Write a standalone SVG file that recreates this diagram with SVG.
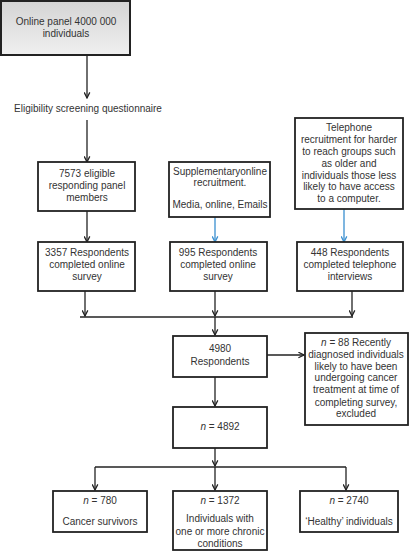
<svg xmlns="http://www.w3.org/2000/svg" width="410" height="552" viewBox="0 0 410 552">
<defs>
<linearGradient id="g" x1="0" y1="0" x2="0" y2="1">
<stop offset="0" stop-color="#d4d4d4"/>
<stop offset="1" stop-color="#f0f0f0"/>
</linearGradient>
<marker id="a" viewBox="0 0 10 10" refX="9" refY="5" markerWidth="7" markerHeight="7" markerUnits="userSpaceOnUse" orient="auto">
<path d="M1,1 L9,5 L1,9" fill="none" stroke="#222" stroke-width="1.8"/>
</marker>
<marker id="b" viewBox="0 0 10 10" refX="9" refY="5" markerWidth="7" markerHeight="7" markerUnits="userSpaceOnUse" orient="auto">
<path d="M1,1 L9,5 L1,9" fill="none" stroke="#3a8fd0" stroke-width="1.8"/>
</marker>
</defs>
<style>
.box{fill:#fff;stroke:#222;stroke-width:1.8}
text{font-family:"Liberation Sans",Arial,sans-serif;font-size:10px;fill:#333;text-anchor:middle}
.c{fill:none;stroke:#222;stroke-width:1.3}
.bl{fill:none;stroke:#3a8fd0;stroke-width:1.3}
</style>
<g id="connectors">
<line class="c" x1="87" y1="56" x2="87" y2="98" marker-end="url(#a)"/>
<line class="c" x1="87" y1="120" x2="87" y2="162" marker-end="url(#a)"/>
<line class="c" x1="87" y1="211" x2="87" y2="242" marker-end="url(#a)"/>
<line class="c" x1="85" y1="291" x2="85" y2="316" marker-end="url(#a)"/>
<line class="bl" x1="215" y1="217" x2="215" y2="242" marker-end="url(#b)"/>
<line class="bl" x1="344" y1="209" x2="344" y2="242" marker-end="url(#b)"/>
<line class="c" x1="215" y1="291" x2="215" y2="316" marker-end="url(#a)"/>
<line class="c" x1="352" y1="291" x2="352" y2="316" marker-end="url(#a)"/>
<line class="c" x1="80" y1="317" x2="353" y2="317"/>
<line class="c" x1="215" y1="317" x2="215" y2="335" marker-end="url(#a)"/>
<line class="c" x1="267" y1="355" x2="304" y2="355" marker-end="url(#a)"/>
<line class="c" x1="215" y1="377" x2="215" y2="406" marker-end="url(#a)"/>
<line class="c" x1="215" y1="448" x2="215" y2="466" marker-end="url(#a)"/>
<line class="c" x1="95" y1="467" x2="346" y2="467"/>
<line class="c" x1="95" y1="467" x2="95" y2="490" marker-end="url(#a)"/>
<line class="c" x1="215" y1="467" x2="215" y2="490" marker-end="url(#a)"/>
<line class="c" x1="346" y1="467" x2="346" y2="490" marker-end="url(#a)"/>
</g>
<g id="panel">
<rect x="1" y="1" width="129" height="54" fill="url(#g)" stroke="#222" stroke-width="2"/>
<text x="66" y="25">Online panel 4000 000</text>
<text x="66" y="37">individuals</text>
</g>
<g id="screening">
<text x="88" y="112">Eligibility screening questionnaire</text>
</g>
<g id="eligible">
<rect class="box" x="38" y="162" width="97" height="49"/>
<text x="87" y="177">7573 eligible</text>
<text x="87" y="189">responding panel</text>
<text x="87" y="201">members</text>
</g>
<g id="online">
<rect class="box" x="38" y="242" width="97" height="49"/>
<text x="87" y="256">3357 Respondents</text>
<text x="87" y="268">completed online</text>
<text x="87" y="280">survey</text>
</g>
<g id="supp">
<rect class="box" x="169" y="162" width="101" height="55"/>
<text x="220" y="175">Supplementaryonline</text>
<text x="220" y="186">recruitment.</text>
<text x="220" y="208">Media, online, Emails</text>
</g>
<g id="online2">
<rect class="box" x="170" y="242" width="97" height="49"/>
<text x="218" y="256">995 Respondents</text>
<text x="218" y="268">completed online</text>
<text x="218" y="280">survey</text>
</g>
<g id="tel">
<rect class="box" x="295" y="118" width="108" height="91"/>
<text x="349" y="131">Telephone</text>
<text x="349" y="143">recruitment for harder</text>
<text x="349" y="155">to reach groups such</text>
<text x="349" y="167">as older and</text>
<text x="349" y="179">individuals those less</text>
<text x="349" y="190">likely to have access</text>
<text x="349" y="202">to a computer.</text>
</g>
<g id="tel2">
<rect class="box" x="297" y="242" width="106" height="49"/>
<text x="350" y="256">448 Respondents</text>
<text x="350" y="268">completed telephone</text>
<text x="350" y="280">interviews</text>
</g>
<g id="resp">
<rect class="box" x="173" y="336" width="94" height="41"/>
<text x="220" y="352">4980</text>
<text x="220" y="365">Respondents</text>
</g>
<g id="excl">
<rect class="box" x="305" y="333" width="103" height="92"/>
<text x="356" y="346"><tspan font-style="italic">n</tspan> = 88 Recently</text>
<text x="356" y="358">diagnosed individuals</text>
<text x="356" y="370">likely to have been</text>
<text x="356" y="381">undergoing cancer</text>
<text x="356" y="393">treatment at time of</text>
<text x="356" y="406">completing survey,</text>
<text x="356" y="417">excluded</text>
</g>
<g id="n4892">
<rect class="box" x="173" y="407" width="94" height="41"/>
<text x="220" y="430"><tspan font-style="italic">n</tspan> = 4892</text>
</g>
<g id="cancer">
<rect class="box" x="53" y="491" width="94" height="41"/>
<text x="100" y="504"><tspan font-style="italic">n</tspan> = 780</text>
<text x="100" y="525">Cancer survivors</text>
</g>
<g id="chronic">
<rect class="box" x="173" y="491" width="94" height="59"/>
<text x="220" y="504"><tspan font-style="italic">n</tspan> = 1372</text>
<text x="220" y="522">Individuals with</text>
<text x="220" y="535">one or more chronic</text>
<text x="220" y="547">conditions</text>
</g>
<g id="healthy">
<rect class="box" x="300" y="491" width="98" height="41"/>
<text x="349" y="504"><tspan font-style="italic">n</tspan> = 2740</text>
<text x="349" y="525">‘Healthy’ individuals</text>
</g>
</svg>
